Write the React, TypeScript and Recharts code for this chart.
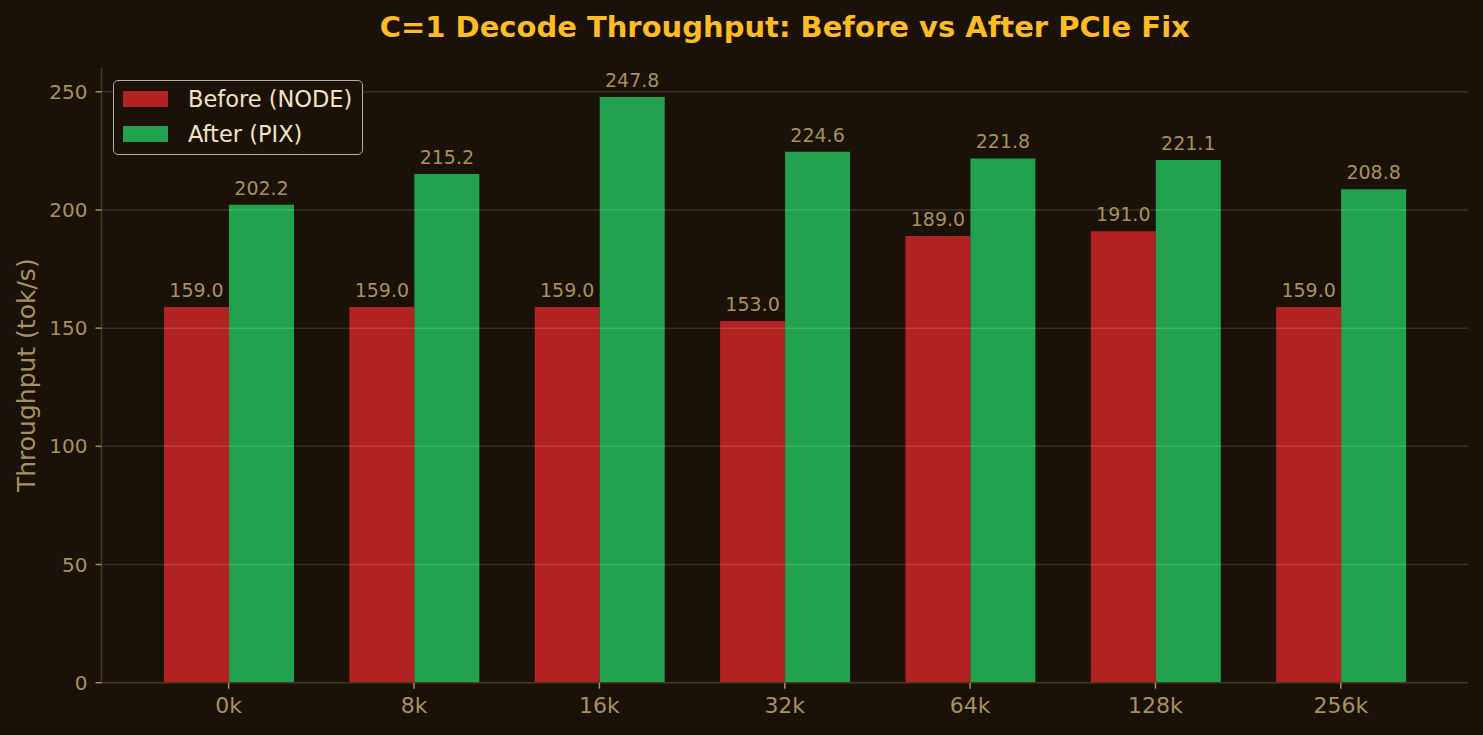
import { BarChart, Bar, XAxis, YAxis, ReferenceLine, LabelList } from 'recharts'

const contexts = ['0k', '8k', '16k', '32k', '64k', '128k', '256k']
const beforeNode = [159.0, 159.0, 159.0, 153.0, 189.0, 191.0, 159.0]
const afterPix = [202.2, 215.2, 247.8, 224.6, 221.8, 221.1, 208.8]
const yTicks = [0, 50, 100, 150, 200, 250]

const BG = '#1a1109'
const TICK = '#a89060'
const AXIS = '#4a3a1c'
const RED = '#b22222'
const GREEN = '#22a24e'
const FONT = '"DejaVu Sans", sans-serif'

const data = contexts.map((c, i) => ({ ctx: c, before: beforeNode[i], after: afterPix[i] }))

const legendItems = [
  { name: 'Before (NODE)', color: RED },
  { name: 'After (PIX)', color: GREEN },
]

function LegendBox() {
  return (
    <div
      style={{
        position: 'absolute',
        left: 113,
        top: 80,
        width: 250,
        height: 75,
        border: '1.5px solid #b4ae9f',
        borderRadius: 5,
        background: BG,
        boxSizing: 'border-box',
        paddingTop: 0.5,
        fontFamily: FONT,
      }}
    >
      {legendItems.map(it => (
        <div key={it.name} style={{ display: 'flex', alignItems: 'center', height: 35 }}>
          <div style={{ width: 45, height: 16, background: it.color, marginLeft: 9, marginRight: 20 }} />
          <span style={{ color: '#f3e3c0', fontSize: 22.5 }}>{it.name}</span>
        </div>
      ))}
    </div>
  )
}

function YLabel(props: any) {
  const vb = props.viewBox
  const cy = vb.y + vb.height / 2
  return (
    <text
      x={27}
      y={cy}
      transform={`rotate(-90 27 ${cy})`}
      textAnchor="middle"
      dominantBaseline="central"
      fill={TICK}
      fontSize={25}
      fontFamily={FONT}
    >
      Throughput (tok/s)
    </text>
  )
}

export default function App() {
  return (
    <div style={{ position: 'absolute', left: 0, top: 0, width: 1483, height: 735, background: BG }}>
      <div
        style={{
          position: 'absolute',
          left: 101.5,
          width: 1366.5,
          top: 13,
          textAlign: 'center',
          color: '#fbbc24',
          fontFamily: FONT,
          fontWeight: 'bold',
          fontSize: 29,
          lineHeight: '29px',
        }}
      >
        C=1 Decode Throughput: Before vs After PCIe Fix
      </div>
      <BarChart
        width={1483}
        height={735}
        data={data}
        margin={{ top: 67.7, right: 15, bottom: 0, left: 0 }}
        barGap={0}
        style={{ fontFamily: FONT }}
      >
        <XAxis
          dataKey="ctx"
          height={52.3}
          padding={{ left: 34.5, right: 34.5 }}
          stroke={AXIS}
          strokeWidth={1.5}
          tickLine={{ stroke: TICK }}
          tickSize={6}
          tickMargin={9}
          tick={{ fill: TICK, fontSize: 22 }}
        />
        <YAxis
          width={101.5}
          domain={[0, 260.19]}
          ticks={yTicks}
          stroke={AXIS}
          strokeWidth={1.5}
          tickLine={{ stroke: TICK }}
          tickSize={6}
          tickMargin={8}
          tick={{ fill: TICK, fontSize: 20 }}
          label={<YLabel />}
        />
        <Bar dataKey="before" name="Before (NODE)" fill={RED} barSize={65} isAnimationActive={false}>
          <LabelList
            dataKey="before"
            position="top"
            offset={10}
            fill={TICK}
            fontSize={19}
            formatter={(v: any) => Number(v).toFixed(1)}
          />
        </Bar>
        <Bar dataKey="after" name="After (PIX)" fill={GREEN} barSize={65} isAnimationActive={false}>
          <LabelList
            dataKey="after"
            position="top"
            offset={10}
            fill={TICK}
            fontSize={19}
            formatter={(v: any) => Number(v).toFixed(1)}
          />
        </Bar>
        {yTicks.slice(1).map(t => (
          <ReferenceLine key={t} y={t} stroke="rgba(255,245,220,0.14)" strokeWidth={1.5} />
        ))}
      </BarChart>
      <LegendBox />
    </div>
  )
}
